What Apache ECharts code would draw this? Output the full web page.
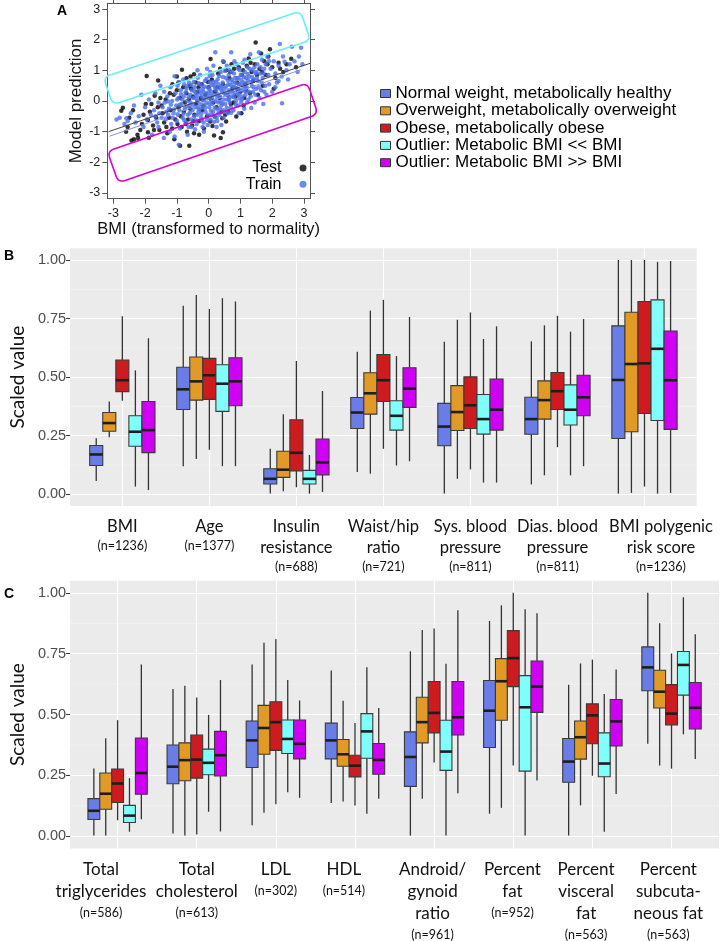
<!DOCTYPE html>
<html><head><meta charset="utf-8">
<script src="https://cdn.jsdelivr.net/npm/echarts@6/dist/echarts.min.js"></script>
<style>html,body{margin:0;padding:0;background:#fff}#c{width:722px;height:941px}</style>
</head><body><div id="c"></div><script>
// ---------- Panel A data ----------
const aTicks = [-3, -2, -1, 0, 1, 2, 3];
const testPts = [
[-2.75,-0.32],[-2.38,-0.30],[-2.70,-0.22],[-2.43,-1.29],[-2.35,-1.25],[-2.22,-1.21],[-2.24,-1.10],[-1.91,-1.02],[-1.91,-0.62],[-2.05,-0.45],[-1.85,-0.35],[-1.75,-0.80],[-1.65,-0.55],[-1.60,-0.20],[-1.55,-0.95],[-1.95,0.82],[-1.59,0.67],[-1.70,0.17],[-2.10,-0.75],[-2.55,-0.85],[-1.80,-0.10],[-1.45,-0.40],[-1.40,-0.70],[-1.35,0.05],[-1.30,-1.05],[-1.52,0.10],
[-1.14,0.55],[-0.84,1.02],[-0.70,0.74],[-0.90,-1.46],[-0.61,-1.46],[-0.46,-1.05],[-1.20,-0.30],[-1.10,0.20],[-1.05,-0.60],[-1.00,0.35],[-0.95,-0.20],[-0.90,0.10],[-0.85,-0.85],[-0.80,0.45],[-0.78,-0.35],[-0.75,-0.05],[-0.70,0.25],[-0.65,-0.60],[-0.62,0.05],[-0.58,-0.25],[-0.55,0.40],[-0.52,-0.80],[-0.50,0.15],[-1.25,-0.55],[-1.15,-0.90],[-0.95,0.60],[-0.68,-1.00],[-0.88,-0.50],
[-0.46,0.87],[-0.40,0.60],[-0.45,-0.45],[-0.40,-0.10],[-0.35,0.30],[-0.30,-0.65],[-0.25,0.10],[-0.22,0.55],[-0.20,-0.30],[-0.15,-0.90],[-0.10,0.20],[-0.05,-0.50],[0.00,0.45],[0.05,-0.67],[0.08,0.05],[0.10,0.70],[0.17,-1.13],[0.38,-1.21],[0.45,-1.02],[0.19,-0.51],[0.43,-0.56],[0.55,-0.67],[0.06,1.37],[0.47,1.28],[0.20,0.30],[0.25,-0.20],[0.30,0.90],[0.35,0.10],[0.40,-0.35],[0.45,0.55],[-0.30,-1.10],[0.15,-0.05],
[0.87,-0.51],[1.03,-0.40],[0.60,0.20],[0.65,0.75],[0.70,-0.10],[0.75,0.40],[0.80,1.05],[0.85,0.15],[0.90,0.60],[0.95,1.10],[1.00,0.30],[1.05,0.85],[1.10,-0.15],[1.15,0.55],[1.20,1.15],[1.26,1.39],[1.30,0.25],[1.35,0.95],[1.40,0.65],[1.45,1.20],[1.48,1.91],[0.55,1.00],[0.62,-0.35],[0.72,1.20],[1.12,0.10],
[1.60,1.05],[1.70,0.50],[1.75,1.30],[1.80,0.85],[1.93,1.69],[2.00,1.10],[2.10,0.75],[2.20,1.25],[2.35,0.95],[2.60,1.38],[2.75,1.10],[1.55,0.20],[1.65,1.55],[1.85,1.20],[2.05,0.40],
[-2.60,-1.00],[-2.15,-0.95],[-1.98,-0.10],[-1.72,-0.95],[-1.48,-0.15],[-1.33,-0.85],[-1.22,0.25],[-1.08,-1.25],[-0.98,-0.75],[-0.72,-0.75],[-0.60,0.50],[-0.48,-0.65],[-0.32,0.45],[-0.18,-0.15],[-0.02,0.62],[0.12,-0.82],[0.28,0.45],[0.52,-0.45],[0.68,0.95],[0.78,-0.05],[0.92,0.35],[1.08,1.00],[1.18,0.35],[1.32,1.25],[1.52,0.85],[1.68,0.95],[1.88,1.45],[2.25,1.05],[2.45,1.20],[-1.00,0.80],[-0.57,0.80],[0.36,1.05],[-1.88,-1.20],[-2.50,-0.55]
];
const trainPts = [
[-2.80,-0.55],[-2.59,-0.56],[-2.65,-0.75],[-2.55,-0.65],[-2.45,-0.40],[-2.30,-0.70],[-2.12,0.20],[-2.20,-0.50],[-2.05,-0.85],[-2.00,-0.20],[-1.95,-0.60],[-1.88,0.05],[-1.82,-0.45],[-1.78,-1.10],[-1.72,-0.30],[-1.68,0.25],[-1.62,-0.70],[-1.58,-0.05],[-1.52,0.50],[-1.55,-0.40],[-2.90,-0.60],[-2.35,-0.15],
[-1.41,-1.21],[-1.07,-1.16],[-0.94,-1.43],[-1.07,0.81],[-1.28,-0.02],[-1.45,-0.20],[-1.40,0.30],[-1.35,-0.60],[-1.30,0.15],[-1.25,-0.25],[-1.20,0.45],[-1.18,-0.75],[-1.15,0.00],[-1.10,-0.40],[-1.05,0.25],[-1.02,-0.15],[-1.00,-0.65],[-0.98,0.50],[-0.95,0.10],[-0.92,-0.30],[-0.90,-0.90],[-0.88,0.35],[-0.85,-0.10],[-0.82,-0.55],[-0.80,0.70],[-0.78,0.15],[-0.75,-0.25],[-0.72,-0.70],[-0.70,0.40],[-0.68,0.00],[-0.65,-0.45],[-0.62,0.60],[-0.60,-0.15],[-0.58,0.20],[-0.55,-0.60],[-0.53,0.35],[-0.51,-0.30],[-1.22,-1.00],[-0.66,-1.10],
[-0.48,0.10],[-0.46,-0.50],[-0.44,0.45],[-0.42,-0.20],[-0.40,0.25],[-0.38,-0.75],[-0.36,0.00],[-0.34,0.76],[-0.32,-0.35],[-0.30,0.35],[-0.28,-0.10],[-0.26,0.55],[-0.24,-0.55],[-0.22,0.15],[-0.20,-0.20],[-0.18,0.40],[-0.16,-0.70],[-0.14,0.05],[-0.12,0.65],[-0.10,-0.35],[-0.08,0.25],[-0.06,-0.05],[-0.04,0.45],[-0.02,-0.45],[0.00,0.10],[0.02,-0.20],[0.04,0.60],[0.06,-0.60],[0.08,0.30],[0.10,-0.10],[0.12,0.85],[0.14,-0.35],[0.16,0.20],[0.18,0.50],[0.20,-0.50],[0.21,1.59],[0.22,0.00],[0.24,0.35],[0.26,-0.25],[0.28,0.70],[0.30,-0.05],[0.32,0.45],[0.34,-0.45],[0.36,0.15],[0.38,0.95],[0.40,-0.78],[0.40,-0.15],[0.42,0.30],[0.44,0.60],[0.46,-0.30],[0.48,0.05],[-0.35,1.00],[-0.15,-1.00],[0.05,0.95],[0.25,-0.85],
[0.50,0.40],[0.52,-0.10],[0.55,0.75],[0.58,0.20],[0.60,-0.40],[0.62,0.55],[0.64,0.05],[0.66,1.00],[0.68,0.30],[0.71,1.59],[0.70,-0.20],[0.72,0.70],[0.74,0.15],[0.76,0.45],[0.78,-0.30],[0.80,0.90],[0.82,0.25],[0.84,0.60],[0.86,0.00],[0.88,1.20],[0.90,0.40],[0.92,-0.15],[0.94,0.75],[0.96,0.20],[0.98,1.00],[1.00,0.55],[1.02,-0.05],[1.04,0.85],[1.06,0.35],[1.08,1.25],[1.10,0.60],[1.12,-0.25],[1.14,0.95],[1.16,0.20],[1.18,0.75],[1.20,0.45],[1.22,1.10],[1.25,0.05],[1.28,0.80],[1.31,1.53],[1.34,-0.23],[1.36,0.50],[1.38,1.00],[1.40,0.30],[1.42,0.70],[1.45,-0.05],[1.48,0.90],
[1.50,0.40],[1.53,1.20],[1.55,0.65],[1.58,1.59],[1.60,0.10],[1.62,0.90],[1.65,0.35],[1.68,1.35],[1.70,0.75],[1.72,-0.10],[1.75,1.05],[1.78,0.50],[1.80,1.20],[1.82,0.20],[1.85,1.44],[1.88,0.85],[1.90,0.55],[1.95,1.05],[2.00,0.30],[2.05,1.30],[2.10,0.90],[2.15,0.60],[2.20,1.15],[2.24,1.86],[2.30,0.80],[2.31,-0.07],[2.34,1.45],[2.39,1.28],[2.45,1.00],[2.50,0.70],[2.55,1.20],[2.62,1.77],[2.70,1.30],[2.84,1.45],[2.91,1.74],[2.80,0.95],[2.95,1.20],
[-0.97,-0.45],[-0.87,0.22],[-0.77,-0.62],[-0.67,0.48],[-0.57,-0.05],[-0.47,0.62],[-0.43,-0.92],[-0.37,0.18],[-0.33,-0.22],[-0.27,0.85],[-0.23,-0.42],[-0.17,0.30],[-0.13,-0.12],[-0.07,0.72],[-0.03,-0.78],[0.03,0.38],[0.07,-0.32],[0.11,0.52],[0.13,0.02],[0.17,-0.68],[0.23,0.62],[0.27,0.12],[0.31,-0.38],[0.33,0.82],[0.37,-0.02],[0.41,0.48],[0.47,-0.55],[0.51,0.98],[0.53,0.22],[0.57,-0.22],[0.61,0.68],[0.63,0.35],[0.67,-0.05],[0.73,0.95],[0.77,0.28],[0.83,0.75],[0.87,0.42],[0.93,1.05],[0.97,0.08],[1.03,0.68],[1.07,0.15],[1.13,1.35],[1.17,0.42],[1.23,0.88],[1.27,0.30],[1.33,0.62],[-0.93,0.62],[-1.13,-0.55],[-1.33,-0.35],[-0.63,-0.85],[0.15,1.15],[-0.05,1.05],[0.45,1.30],[0.95,-0.40],[1.50,0.95],[1.75,0.30],
[-1.19,-0.12],[-1.09,-0.28],[-0.99,0.05],[-0.91,-0.12],[-0.83,0.05],[-0.79,-0.42],[-0.73,0.28],[-0.69,-0.18],[-0.63,0.12],[-0.59,-0.38],[-0.54,0.52],[-0.49,-0.12],[-0.45,0.32],[-0.41,-0.62],[-0.39,0.08],[-0.35,-0.45],[-0.31,0.58],[-0.29,-0.28],[-0.25,0.25],[-0.21,-0.62],[-0.19,0.02],[-0.15,0.48],[-0.11,-0.22],[-0.09,0.12],[-0.05,-0.62],[-0.01,0.28],[0.01,-0.08],[0.05,0.18],[0.09,-0.45],[0.11,0.08],[0.15,0.62],[0.19,-0.22],[0.21,0.42],[0.25,-0.55],[0.29,0.22],[0.31,0.55],[0.35,-0.25],[0.39,0.38],[0.43,-0.08],[0.45,0.78],[0.49,0.25],[0.53,-0.35],[0.55,0.48],[0.59,0.05],[0.63,0.85],[0.65,0.12],[0.69,0.52],[0.71,-0.38],[0.75,0.62],[0.79,0.12],[0.81,0.48],[0.85,-0.12],[0.89,0.75],[0.91,0.22],[0.95,0.55],[0.99,0.35],[1.01,0.85],[1.05,0.05],[1.09,0.48],[1.11,0.78],[1.15,0.32],[1.19,0.58],[1.21,-0.05],[1.24,0.68],[1.29,1.05],[1.32,0.15],[1.37,0.78],[1.41,0.45],[1.44,1.10],[1.47,0.20],[1.52,0.75],[1.57,0.45],[1.63,1.10],[1.67,0.60],[1.73,0.90],[-1.48,-0.55],[-1.38,-0.05],[-1.28,-0.45],[-1.58,-0.85],[-1.68,-0.50],[0.27,-0.65],[-0.19,-0.85],[0.57,1.15],[0.81,1.30],[-0.77,0.55],[0.03,0.82],[-0.55,-0.85],[1.90,1.30],[2.10,0.45],[2.20,0.65]
];
const testLine = [[-3.15, -1.00], [3.19, 1.23]];
const trainLine = [[-3.12, -1.15], [2.90, 1.02]];
const cyanBox = [[-3.31, 0.78], [2.89, 2.94], [3.20, 1.98], [-3.02, -0.12]];
const magentaBox = [[-3.19, -1.64], [3.11, 0.59], [3.44, -0.43], [-2.84, -2.67]];

// ---------- Panels B / C data ----------
const groupNames = ['Normal weight, metabolically healthy', 'Overweight, metabolically overweight', 'Obese, metabolically obese', 'Outlier: Metabolic BMI << BMI', 'Outlier: Metabolic BMI >> BMI'];
const groupColors = ['#6A7DE6', '#E09A25', '#CD1B20', '#80FFFA', '#D000F5'];
const yTicks = [0, 0.25, 0.5, 0.75, 1];
const yMinor = [0.125, 0.375, 0.625, 0.875];

const catsB = ['BMI', 'Age', 'Insulin\nresistance', 'Waist/hip\nratio', 'Sys. blood\npressure', 'Dias. blood\npressure', 'BMI polygenic\nrisk score'];
const nB = ['(n=1236)', '(n=1377)', '(n=688)', '(n=721)', '(n=811)', '(n=811)', '(n=1236)'];
// each entry: [min, q1, median, q3, max]
const bNormal = [[0.057,0.123,0.170,0.208,0.239],[0.120,0.362,0.448,0.542,0.805],[0.003,0.044,0.066,0.109,0.194],[0.095,0.281,0.349,0.413,0.608],[0.003,0.207,0.289,0.388,0.651],[0.042,0.256,0.321,0.414,0.653],[0.003,0.238,0.488,0.719,1.0]];
const bOver   = [[0.243,0.269,0.304,0.349,0.396],[0.151,0.402,0.482,0.586,0.851],[0.013,0.072,0.105,0.184,0.342],[0.088,0.342,0.431,0.519,0.784],[0.066,0.272,0.351,0.464,0.745],[0.081,0.321,0.402,0.484,0.721],[0.006,0.267,0.556,0.777,1.0]];
const bObese  = [[0.399,0.438,0.487,0.573,0.760],[0.190,0.405,0.508,0.580,0.791],[0.030,0.100,0.177,0.318,0.569],[0.194,0.396,0.487,0.597,0.830],[0.106,0.281,0.380,0.501,0.776],[0.201,0.362,0.440,0.520,0.762],[0.033,0.345,0.559,0.823,1.0]];
const bLow    = [[0.033,0.205,0.267,0.335,0.529],[0.120,0.354,0.472,0.553,0.837],[0.003,0.044,0.066,0.102,0.168],[0.123,0.274,0.335,0.399,0.590],[0.050,0.257,0.321,0.426,0.663],[0.081,0.296,0.361,0.467,0.694],[0.003,0.315,0.621,0.830,0.992]];
const bHigh   = [[0.018,0.178,0.274,0.396,0.666],[0.120,0.378,0.482,0.583,0.823],[0.010,0.083,0.136,0.236,0.441],[0.141,0.371,0.451,0.540,0.757],[0.050,0.274,0.361,0.492,0.717],[0.120,0.335,0.414,0.508,0.748],[0.006,0.277,0.487,0.697,0.996]];

const catsC = ['Total\ntriglycerides', 'Total\ncholesterol', 'LDL', 'HDL', 'Android/\ngynoid\nratio', 'Percent\nfat', 'Percent\nvisceral\nfat', 'Percent\nsubcuta-\nneous fat'];
const nC = ['(n=586)', '(n=613)', '(n=302)', '(n=514)', '(n=961)', '(n=952)', '(n=563)', '(n=563)'];
const cNormal = [[0.003,0.069,0.105,0.155,0.279],[0.012,0.216,0.286,0.375,0.605],[0.046,0.283,0.394,0.474,0.706],[0.137,0.318,0.394,0.465,0.681],[0.003,0.205,0.326,0.429,0.760],[0.093,0.365,0.516,0.640,0.885],[0.003,0.222,0.307,0.402,0.623],[0.380,0.598,0.694,0.778,1.0]];
const cOver   = [[0.003,0.111,0.175,0.260,0.403],[0.003,0.228,0.313,0.384,0.619],[0.097,0.337,0.445,0.538,0.795],[0.143,0.288,0.337,0.398,0.557],[0.154,0.384,0.469,0.571,0.848],[0.117,0.477,0.637,0.730,0.949],[0.127,0.317,0.407,0.474,0.710],[0.291,0.527,0.594,0.682,0.875]];
const cObese  = [[0.066,0.139,0.217,0.276,0.477],[0.007,0.239,0.315,0.416,0.570],[0.132,0.353,0.469,0.553,0.811],[0.127,0.244,0.290,0.333,0.465],[0.303,0.425,0.507,0.636,0.854],[0.291,0.615,0.732,0.845,1.0],[0.249,0.380,0.497,0.544,0.726],[0.278,0.458,0.504,0.623,0.751]];
const cLow    = [[0.019,0.057,0.085,0.127,0.239],[0.101,0.253,0.302,0.358,0.499],[0.181,0.340,0.400,0.478,0.642],[0.093,0.321,0.431,0.504,0.694],[0.003,0.271,0.348,0.477,0.709],[0.003,0.268,0.530,0.660,0.933],[0.019,0.245,0.299,0.425,0.585],[0.419,0.580,0.704,0.759,0.982]];
const cHigh   = [[0.070,0.173,0.260,0.404,0.706],[0.020,0.248,0.333,0.431,0.642],[0.158,0.318,0.380,0.478,0.558],[0.154,0.255,0.314,0.381,0.527],[0.177,0.416,0.489,0.636,0.929],[0.229,0.509,0.615,0.720,0.916],[0.174,0.371,0.472,0.562,0.685],[0.318,0.441,0.528,0.632,0.830]];

// label nudges (in category units) matching the hand-placed labels of the original figure
const labelShiftB = [0, 0, 0, 0, 0, 0, 0.19];
const labelShiftC = [-0.21, 0, 0, -0.14, -0.02, -0.01, -0.08, -0.04];

// ---------- helpers ----------
const SANS = '"Liberation Sans", Arial, sans-serif';
const CAL = 'Lato, "Open Sans", sans-serif';
const BOXW = 0.15;

function roundedPoly(pts, r) {
  const out = [];
  const n = pts.length;
  for (let i = 0; i < n; i++) {
    const p = pts[i], pr = pts[(i - 1 + n) % n], nx = pts[(i + 1) % n];
    const l1 = Math.hypot(pr[0] - p[0], pr[1] - p[1]), l2 = Math.hypot(nx[0] - p[0], nx[1] - p[1]);
    const a = [p[0] + (pr[0] - p[0]) / l1 * r, p[1] + (pr[1] - p[1]) / l1 * r];
    const b = [p[0] + (nx[0] - p[0]) / l2 * r, p[1] + (nx[1] - p[1]) / l2 * r];
    for (let k = 0; k <= 6; k++) {
      const t = k / 6, u = 1 - t;
      out.push([u * u * a[0] + 2 * u * t * p[0] + t * t * b[0], u * u * a[1] + 2 * u * t * p[1] + t * t * b[1]]);
    }
  }
  return out;
}
function boxSeries(corners, color) {
  return {
    type: 'custom', xAxisIndex: 0, yAxisIndex: 0, silent: true, clip: false, z: 4,
    data: [corners[0]],
    renderItem: function (params, api) {
      const px = corners.map(c => api.coord(c));
      return { type: 'polygon', shape: { points: roundedPoly(px, 7) }, style: { fill: 'none', stroke: color, lineWidth: 1.6 } };
    }
  };
}
function boxRender(color) {
  return function (params, api) {
    const x = api.value(0);
    const lo = api.coord([x, api.value(1)]);
    const q1 = api.coord([x, api.value(2)]);
    const md = api.coord([x, api.value(3)]);
    const q3 = api.coord([x, api.value(4)]);
    const hi = api.coord([x, api.value(5)]);
    const half = api.size([BOXW, 0])[0] / 2;
    const cx = lo[0];
    return {
      type: 'group', children: [
        { type: 'line', shape: { x1: cx, y1: lo[1], x2: cx, y2: q1[1] }, style: { stroke: '#333', lineWidth: 1.3 } },
        { type: 'line', shape: { x1: cx, y1: hi[1], x2: cx, y2: q3[1] }, style: { stroke: '#333', lineWidth: 1.3 } },
        { type: 'rect', shape: { x: cx - half, y: q3[1], width: 2 * half, height: q1[1] - q3[1] }, style: { fill: color, stroke: '#3a3a3a', lineWidth: 1.1 } },
        { type: 'line', shape: { x1: cx - half, y1: md[1], x2: cx + half, y2: md[1] }, style: { stroke: '#1e1e1e', lineWidth: 2.6 } }
      ]
    };
  };
}
function groupSeries(stats, g, axisIdx) {
  return {
    type: 'custom', name: groupNames[g], xAxisIndex: axisIdx, yAxisIndex: axisIdx, z: 3,
    itemStyle: { color: groupColors[g] },
    encode: { x: 0, y: [1, 2, 3, 4, 5] },
    data: stats.map((s, i) => [i + 1 + (g - 2) * BOXW].concat(s)),
    renderItem: boxRender(groupColors[g])
  };
}
function minorSeries(axisIdx) {
  return {
    type: 'custom', xAxisIndex: axisIdx, yAxisIndex: axisIdx, silent: true, z: 1,
    encode: { x: 0, y: 1 },
    data: yMinor.map(v => [1, v]),
    renderItem: function (params, api) {
      const cs = params.coordSys;
      const y = api.coord([1, api.value(1)])[1];
      return { type: 'line', shape: { x1: cs.x, y1: y, x2: cs.x + cs.width, y2: y }, style: { stroke: '#F6F6F6', lineWidth: 0.6 } };
    }
  };
}
function catLabel(cats, ns, max) {
  return function (v) {
    if (v <= 0.45 || v >= max - 0.05) return '';
    const i = Math.round(v) - 1;
    if (i < 0 || i >= cats.length) return '';
    return cats[i].split('\n').map(s => '{a|' + s + '}').join('\n') + '\n{b|' + ns[i] + '}';
  };
}
const catIdxB = catsB.map((c, i) => i + 1);
const catIdxC = catsC.map((c, i) => i + 1);

const aAxisCommon = {
  type: 'value', min: -3.19, max: 3.19, gridIndex: 0,
  axisLine: { show: true, onZero: false, lineStyle: { color: '#555', width: 1 } },
  axisTick: { show: true, customValues: aTicks, length: 5, lineStyle: { color: '#555' } },
  splitLine: { show: false }
};
const boxYAxis = (gi, gap) => ({
  type: 'value', gridIndex: gi, min: -0.05, max: 1.05,
  axisLine: { show: false },
  axisTick: { show: true, customValues: yTicks, length: 4, lineStyle: { color: '#333' } },
  axisLabel: { customValues: yTicks, formatter: v => v.toFixed(2), fontFamily: SANS, fontSize: 14.5, color: '#4D4D4D', margin: 4 },
  splitLine: { show: true, lineStyle: { color: '#FFFFFF', width: 1.1 } },
  name: 'Scaled value', nameLocation: 'middle', nameGap: gap,
  nameTextStyle: { fontFamily: CAL, fontSize: 19, color: '#111' }
});
const boxXAxis = (gi, max, idx, shifts, cats, ns, lhA, lhB, fsA) => ({
  type: 'value', gridIndex: gi, min: 0.4, max: max,
  axisLine: { show: false },
  axisTick: { show: false, customValues: idx },
  axisLabel: {
    // empty edge labels so that the real category labels are never treated as min/max labels
    customValues: [0.4].concat(idx.map((v, i) => v + shifts[i]), [max]), formatter: catLabel(cats, ns, max), margin: 10, verticalAlign: 'top',
    interval: 0, hideOverlap: false, showMinLabel: true, showMaxLabel: true,
    rich: { a: { fontFamily: CAL, fontSize: fsA, lineHeight: lhA, color: '#111' }, b: { fontFamily: CAL, fontSize: 12.5, lineHeight: lhB, color: '#111' } }
  },
  splitLine: { show: true, lineStyle: { color: '#FFFFFF', width: 1.1 } }
});

const option = {
  animation: false,
  backgroundColor: '#fff',
  grid: [
    { left: 107.3, top: 3.3, width: 202.7, height: 195.4, show: false },
    { left: 65, top: 248.3, width: 631.7, height: 257.7, show: true, backgroundColor: '#EBEBEB', borderWidth: 0 },
    { left: 61, top: 580.7, width: 661, height: 271, show: true, backgroundColor: '#EBEBEB', borderWidth: 0 }
  ],
  xAxis: [
    Object.assign({}, aAxisCommon, { position: 'bottom',
      axisLabel: { customValues: aTicks, fontFamily: SANS, fontSize: 12.5, color: '#222', margin: 8 },
      name: 'BMI (transformed to normality)', nameLocation: 'middle', nameGap: 22,
      nameTextStyle: { fontFamily: SANS, fontSize: 16.5, color: '#111' } }),
    Object.assign({}, aAxisCommon, { position: 'top', axisLabel: { show: false } }),
    boxXAxis(1, 7.6, catIdxB, labelShiftB, catsB, nB, 21, 18, 16.5),
    boxXAxis(2, 8.6, catIdxC, labelShiftC, catsC, nC, 22, 20, 17)
  ],
  yAxis: [
    Object.assign({}, aAxisCommon, { position: 'left',
      axisLabel: { customValues: aTicks, fontFamily: SANS, fontSize: 12.5, color: '#222', margin: 7 },
      name: 'Model prediction', nameLocation: 'middle', nameGap: 22,
      nameTextStyle: { fontFamily: SANS, fontSize: 17, color: '#111' } }),
    Object.assign({}, aAxisCommon, { position: 'right', axisLabel: { show: false } }),
    boxYAxis(1, 27),
    boxYAxis(2, 24)
  ],
  legend: [
    {
      data: groupNames.map((n, g) => ({ name: n, icon: 'rect', itemStyle: { color: groupColors[g], borderColor: '#333', borderWidth: 1 } })),
      orient: 'vertical', left: 375, top: 80, itemWidth: 10, itemHeight: 8, itemGap: 0.3,
      selectedMode: false,
      textStyle: { fontFamily: SANS, fontSize: 17, lineHeight: 13, color: '#000' }
    },
    {
      data: [{ name: 'Test', icon: 'circle' }, { name: 'Train', icon: 'circle' }],
      orient: 'vertical', align: 'right', right: 410.5, top: 155, itemWidth: 33, itemHeight: 7, itemGap: 0.3,
      selectedMode: false,
      textStyle: { fontFamily: SANS, fontSize: 16, lineHeight: 16, color: '#000' }
    }
  ],
  graphic: [
    { type: 'text', left: 57, top: 4, style: { text: 'A', font: 'bold 14px ' + SANS, fill: '#000' } },
    { type: 'text', left: 4, top: 249, style: { text: 'B', font: 'bold 14px ' + SANS, fill: '#000' } },
    { type: 'text', left: 4, top: 587, style: { text: 'C', font: 'bold 14px ' + SANS, fill: '#000' } }
  ],
  series: [
    { type: 'scatter', name: 'Test', xAxisIndex: 0, yAxisIndex: 0, data: testPts, symbol: 'circle', symbolSize: 4.5, itemStyle: { color: '#000' }, z: 2, silent: true },
    { type: 'scatter', name: 'Train', xAxisIndex: 0, yAxisIndex: 0, data: trainPts, symbol: 'circle', symbolSize: 4.5, itemStyle: { color: '#4A6EEA' }, z: 2, silent: true },
    { type: 'line', xAxisIndex: 0, yAxisIndex: 0, data: testLine, showSymbol: false, lineStyle: { color: '#444', width: 1 }, z: 3, silent: true },
    { type: 'line', xAxisIndex: 0, yAxisIndex: 0, data: trainLine, showSymbol: false, lineStyle: { color: '#7C95EE', width: 1 }, z: 3, silent: true },
    boxSeries(cyanBox, '#66F0F2'),
    boxSeries(magentaBox, '#D600D6'),
    minorSeries(2), minorSeries(3),
    groupSeries(bNormal, 0, 2), groupSeries(bOver, 1, 2), groupSeries(bObese, 2, 2), groupSeries(bLow, 3, 2), groupSeries(bHigh, 4, 2),
    groupSeries(cNormal, 0, 3), groupSeries(cOver, 1, 3), groupSeries(cObese, 2, 3), groupSeries(cLow, 3, 3), groupSeries(cHigh, 4, 3)
  ]
};
const chart = echarts.init(document.getElementById('c'), null, { renderer: 'canvas' });
chart.setOption(option);
</script></body></html>
